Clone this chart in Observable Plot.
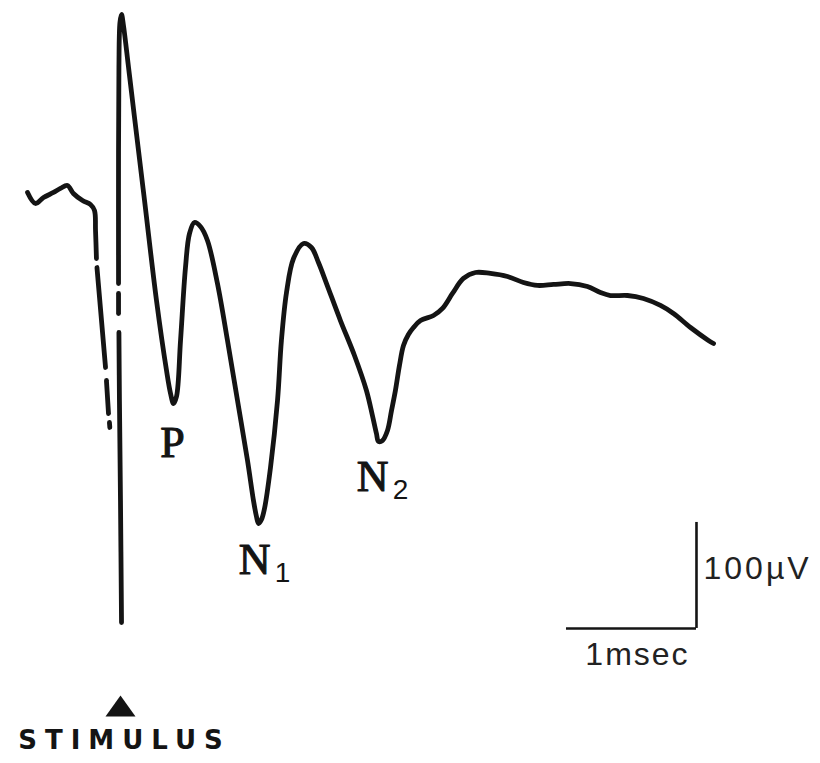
<!DOCTYPE html>
<html>
<head>
<meta charset="utf-8">
<script src="https://cdn.jsdelivr.net/npm/d3@7"></script>
<script src="https://cdn.jsdelivr.net/npm/@observablehq/plot@0.6"></script>
<style>
  html, body { margin: 0; padding: 0; background: #fff; }
  #chart { width: 820px; height: 763px; overflow: hidden; }
</style>
</head>
<body>
<div id="chart"></div>
<script>
// Time in msec (0 = stimulus), potential in µV.
// Pre-stimulus baseline (solid)
const baselineT = [-0.715, -0.654, -0.592, -0.515, -0.462, -0.408, -0.362, -0.292, -0.231, -0.200, -0.192, -0.185];
const baselineV = [101.9, 91.5, 97.2, 101.9, 105.7, 108.5, 100.9, 94.3, 90.6, 84.9, 66.0, 39.6];

// Broken (faint) pieces of the stimulus artifact
const fragId = ["f1", "f1", "f2", "f2", "f3", "f3", "f4", "f4"];
const fragT = [-0.181, -0.115, -0.108, -0.092, -0.085, -0.082, -0.015, -0.015];
const fragV = [31.1, -63.2, -75.5, -106.6, -115.1, -119.8, -12.3, 6.6];

// Lower part of the artifact upstroke
const lowT = [0.008, 0.000, -0.008, -0.012];
const lowV = [-303.8, -188.7, -94.3, -30.2];

// Main evoked response (from artifact upstroke onward)
const mainT = [-0.015, -0.015, -0.012, -0.004, 0.008, 0.023, 0.062, 0.108, 0.185, 0.277, 0.354, 0.385, 0.408, 0.431, 0.462,
  0.500, 0.531, 0.569, 0.615, 0.669, 0.746, 0.823, 0.900, 0.977, 1.023, 1.046, 1.062, 1.085, 1.108, 1.154, 1.208, 1.238,
  1.277, 1.331, 1.408, 1.469, 1.523, 1.585, 1.692, 1.800, 1.892, 1.938, 1.969, 1.985, 2.015, 2.054, 2.085, 2.115, 2.146,
  2.177, 2.215, 2.254, 2.308, 2.408, 2.477, 2.554, 2.638, 2.731, 2.846, 2.977, 3.100, 3.208, 3.331, 3.462, 3.592, 3.692,
  3.769, 3.900, 4.023, 4.154, 4.254, 4.385, 4.523, 4.562];
const mainV = [16.0, 141.5, 219.8, 262.3, 269.8, 259.4, 219.8, 172.6, 94.3, 0.0, -66.0, -87.7, -97.2, -90.6, -37.7,
  31.1, 63.2, 73.6, 69.8, 56.6, 16.0, -37.7, -94.3, -150.9, -188.7, -203.8, -210.4, -206.6, -196.2, -157.5, -94.3, -37.7,
  7.5, 39.6, 53.8, 50.0, 35.8, 16.0, -18.9, -51.9, -84.9, -108.5, -125.5, -133.0, -132.1, -122.6, -103.8, -84.9, -61.3,
  -42.5, -32.1, -25.5, -18.9, -14.2, -7.5, 6.6, 20.8, 26.4, 25.5, 22.6, 17.0, 14.2, 15.1, 16.0, 13.2, 7.5,
  4.7, 4.7, 1.9, -4.7, -12.3, -25.5, -37.7, -40.6];

// Labelled troughs
const peakNames = ["P", "N", "N"];
const peakSubs = ["", "1", "2"];
const peakT = [0.408, 1.062, 1.985];
const peakV = [-97.2, -210.4, -133.0];

// Calibration bars
const scaleBarT = 3.431;
const scaleBarV = -309.4;
const scaleMsec = 1;
const scaleUV = 100;
const scaleLabelX = "1msec";
const scaleLabelY = "100\u00B5V";
const stimulusLabel = "STIMULUS";
const stimulusTime = 0;

// Build tables
const rows = [];
baselineT.forEach((t, i) => rows.push({t, v: baselineV[i], seg: "base"}));
fragT.forEach((t, i) => rows.push({t, v: fragV[i], seg: fragId[i]}));
lowT.forEach((t, i) => rows.push({t, v: lowV[i], seg: "low"}));
mainT.forEach((t, i) => rows.push({t, v: mainV[i], seg: "main"}));

const peaks = peakNames.map((n, i) => ({name: n, sub: peakSubs[i], t: peakT[i], v: peakV[i]}));

const wideTriangle = {
  draw(ctx) {
    ctx.moveTo(0, -13);
    ctx.lineTo(15, 8);
    ctx.lineTo(-15, 8);
    ctx.closePath();
  }
};

const ink = "#141414";
const serif = "'Liberation Serif', 'Times New Roman', serif";
const sans = "'Liberation Sans', Arial, sans-serif";
const wide = "'DejaVu Sans', Verdana, sans-serif";

function peakMarks(i, dx, dy, sdx, sdy) {
  const d = [peaks[i]];
  const m = [Plot.text(d, {x: "t", y: "v", text: "name", dx, dy, fontSize: 44, fontFamily: serif, fill: ink, stroke: ink, strokeWidth: 1.1, textAnchor: "middle", lineAnchor: "middle"})];
  if (peaks[i].sub) m.push(Plot.text(d, {x: "t", y: "v", text: "sub", dx: sdx, dy: sdy, fontSize: 28, fontFamily: sans, fill: ink, textAnchor: "middle", lineAnchor: "middle"}));
  return m;
}

const chart = Plot.plot({
  width: 820,
  height: 763,
  margin: 0,
  x: {domain: [-0.923, 5.385], axis: null},
  y: {domain: [-436.8, 283.0], axis: null},
  style: {background: "#fff", overflow: "visible"},
  marks: [
    Plot.line(rows, {x: "t", y: "v", z: "seg", curve: "catmull-rom", stroke: ink, strokeWidth: 4.8, strokeLinejoin: "round", strokeLinecap: "round"}),
    ...peakMarks(0, -1, 39),
    ...peakMarks(1, -4, 36, 24, 50),
    ...peakMarks(2, -6, 35, 22, 49),
    Plot.ruleY([scaleBarV], {x1: scaleBarT, x2: scaleBarT + scaleMsec, stroke: ink, strokeWidth: 2.6}),
    Plot.ruleX([scaleBarT + scaleMsec], {y1: scaleBarV, y2: scaleBarV + scaleUV, stroke: ink, strokeWidth: 2.6}),
    Plot.text([scaleLabelY], {x: scaleBarT + scaleMsec, y: scaleBarV + scaleUV / 2, text: d => d, dx: 7, dy: -7, textAnchor: "start", fontSize: 32, fontFamily: sans, fill: "#222"}),
    Plot.text([scaleLabelX], {x: scaleBarT + scaleMsec / 2, y: scaleBarV, text: d => d, dx: 6, dy: 26, textAnchor: "middle", fontSize: 32, fontFamily: sans, fill: "#222"}),
    Plot.dot([stimulusTime], {x: d => d, frameAnchor: "bottom", dy: -55, symbol: wideTriangle, fill: ink, stroke: "none"}),
    Plot.text([stimulusLabel], {x: () => stimulusTime, frameAnchor: "bottom", dy: -15, dx: 4, text: d => d, textAnchor: "middle", fontSize: 26, fontWeight: "bold", fontFamily: wide, fill: ink})
  ]
});

d3.select(chart).selectAll("text").each(function() {
  const s = d3.select(this);
  const t = this.textContent;
  if (t === stimulusLabel) s.attr("letter-spacing", "8px");
  if (t === scaleLabelX) s.attr("letter-spacing", "2px");
  if (t === scaleLabelY) s.attr("letter-spacing", "3px");
});

document.getElementById("chart").appendChild(chart);
</script>
</body>
</html>
